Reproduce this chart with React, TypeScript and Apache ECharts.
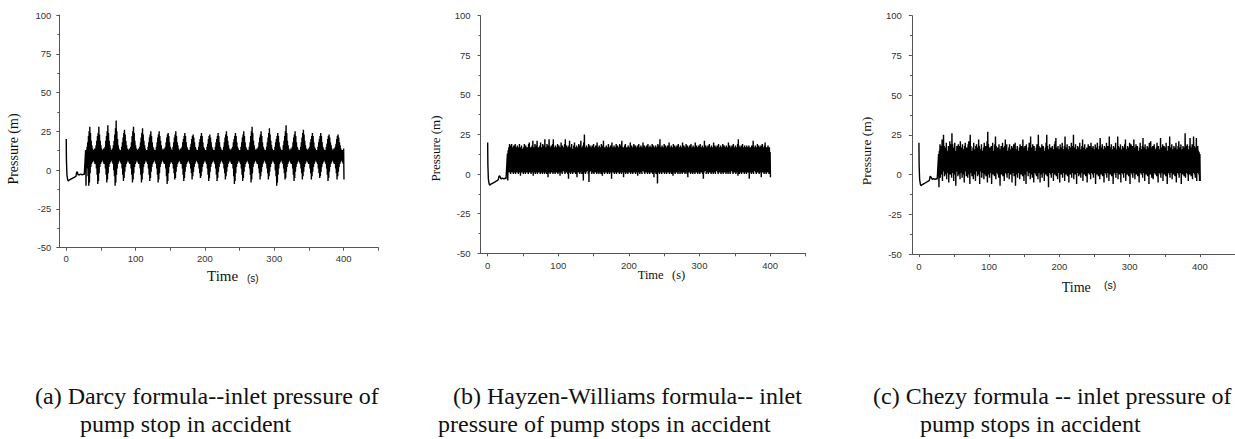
import React, { useEffect, useRef } from "react";
import * as echarts from "echarts";

const SERIF = "Liberation Serif";
const SANS = "Liberation Sans";

// x-axis ticks / labels (s), y-axis range (m)
const xTickValues = [0, 50, 100, 150, 200, 250, 300, 350, 400, 450];
const xLabelValues = [0, 100, 200, 300, 400];
const xRange = [-10, 450];
const yRange = [-50, 100];
const yStep = 25;

// initial transient after pump stop (same time base for all three panels)
const startTimes = [0, 0.3, 1, 2, 3, 4, 6, 8, 10, 12, 14, 15, 16, 17, 19, 21, 23, 25, 26, 27];
const startA = [20, 6, -3, -6, -7, -6.5, -6, -5.5, -5, -4.5, -4, -1.5, -1, -3, -3, -2.5, -3, -2.5, -3, -3];
const startB = [20, 6, -3, -6, -7, -6.5, -6, -5.5, -5, -4.5, -4, -3.5, -1.5, -1, -3, -2.5, -3, -2.5, -3, -3];
const startC = [20, 6, -3, -6, -7, -6.5, -6, -5.5, -5, -4.5, -4, -3.5, -1, -1.5, -3, -2.5, -3, -2.5, -3, -3];

// oscillating part: upper / lower envelope, one value per second from t = 28 s to 400 s
const bandStart = 28;

const upperA = [
  13,
  13, 15, 18, 22, 25, 28, 24, 19, 16, 14, 13, 13, 14,
  13, 16, 19, 22, 24, 28, 23, 19, 16, 14, 12, 13, 14,
  13, 15, 19, 22, 25, 29, 24, 19, 16, 14, 13, 13,
  14, 16, 19, 23, 27, 32, 25, 20, 16, 14, 13, 13,
  13, 15, 18, 21, 24, 26, 23, 19, 16, 14, 13, 12, 14,
  13, 15, 18, 22, 25, 28, 24, 19, 16, 14, 13, 13, 14,
  13, 15, 18, 21, 24, 27, 23, 19, 16, 14, 13, 13,
  13, 15, 18, 21, 23, 25, 22, 18, 15, 14, 13, 13,
  13, 15, 18, 21, 23, 25, 22, 19, 16, 14, 13, 12, 14,
  13, 15, 18, 21, 23, 24, 22, 18, 15, 14, 13,
  13, 15, 18, 21, 23, 25, 22, 18, 16, 14, 13, 12, 14,
  13, 15, 18, 20, 22, 24, 22, 18, 15, 14, 13, 13,
  13, 15, 17, 20, 22, 23, 21, 18, 15, 14, 13, 13,
  13, 15, 18, 20, 22, 24, 22, 18, 15, 14, 13, 13,
  13, 15, 17, 20, 22, 23, 21, 18, 15, 14, 13, 13,
  13, 15, 18, 20, 22, 24, 22, 18, 15, 14, 13, 13,
  13, 15, 18, 21, 23, 25, 22, 19, 16, 14, 13, 12, 14,
  13, 15, 18, 20, 22, 24, 22, 18, 15, 14, 13, 13,
  13, 15, 18, 21, 23, 25, 22, 18, 15, 14, 13, 13,
  13, 15, 18, 22, 25, 28, 24, 19, 16, 14, 13, 12, 14,
  13, 15, 18, 21, 23, 25, 22, 18, 15, 14, 13, 13,
  13, 15, 18, 21, 24, 27, 23, 19, 16, 14, 13, 13,
  13, 15, 18, 20, 22, 24, 22, 18, 15, 14, 13, 13,
  13, 16, 19, 22, 25, 29, 24, 19, 16, 14, 13, 12, 14,
  13, 15, 18, 21, 23, 25, 22, 18, 15, 14, 13, 13,
  13, 15, 18, 21, 24, 26, 23, 19, 16, 14, 13, 12, 14,
  13, 15, 18, 20, 22, 24, 22, 18, 15, 14, 13, 13,
  13, 15, 18, 20, 22, 24, 22, 18, 15, 14, 13, 13,
  13, 15, 17, 20, 22, 23, 21, 18, 16, 14, 13, 12, 14,
  13, 15, 17, 20, 22, 23, 21, 18, 16, 14, 13, 12, 13, 14,
];
const lowerA = [
  -10,
  4, 1, -4, -10, -8, -2, 2, 4, 5, 6, 6, 5, 4,
  4, 1, -3, -9, -7, -2, 2, 4, 5, 6, 6, 5, 4,
  4, 1, -3, -8, -6, -2, 2, 4, 5, 6, 6, 5,
  4, 0, -4, -10, -8, -3, 1, 4, 5, 6, 6, 5,
  4, 1, -3, -7, -5, -1, 2, 4, 5, 6, 6, 5, 4,
  4, 1, -3, -8, -6, -2, 2, 4, 5, 6, 6, 5, 4,
  4, 1, -3, -8, -6, -2, 2, 4, 5, 6, 6, 5,
  4, 1, -3, -7, -5, -1, 2, 4, 5, 6, 6, 5,
  4, 1, -3, -8, -6, -2, 2, 4, 5, 6, 6, 5, 4,
  4, 1, -4, -9, -7, -2, 2, 4, 5, 6, 5,
  4, 1, -2, -6, -5, -1, 2, 4, 5, 6, 6, 5, 4,
  4, 1, -3, -7, -5, -1, 2, 4, 5, 6, 6, 5,
  4, 1, -2, -6, -4, -1, 2, 4, 5, 6, 6, 5,
  4, 1, -2, -5, -4, -1, 2, 4, 5, 6, 6, 5,
  4, 1, -3, -7, -5, -1, 2, 4, 5, 6, 6, 5,
  4, 1, -3, -7, -5, -1, 2, 4, 5, 6, 6, 5,
  4, 1, -2, -6, -4, -1, 2, 4, 5, 6, 6, 5, 4,
  4, 1, -4, -9, -7, -2, 2, 4, 5, 6, 6, 5,
  4, 1, -3, -7, -5, -1, 2, 4, 5, 6, 6, 5,
  4, 1, -3, -8, -6, -2, 2, 4, 5, 6, 6, 5, 4,
  4, 1, -2, -6, -4, -1, 2, 4, 5, 6, 6, 5,
  4, 1, -2, -6, -4, -1, 2, 4, 5, 6, 6, 5,
  4, 0, -4, -10, -8, -3, 1, 4, 5, 6, 6, 5,
  4, 1, -2, -6, -5, -1, 2, 4, 5, 6, 6, 5, 4,
  4, 1, -3, -7, -5, -1, 2, 4, 5, 6, 6, 5,
  4, 1, -2, -6, -4, -1, 2, 4, 5, 6, 6, 5, 4,
  4, 1, -2, -6, -4, -1, 2, 4, 5, 6, 6, 5,
  4, 1, -2, -5, -4, -1, 2, 4, 5, 6, 6, 5,
  4, 1, -3, -7, -5, -1, 2, 4, 5, 6, 6, 5, 4,
  4, 1, -2, -6, -4, -1, 2, 4, 5, 6, 6, 5, 4, -6,
];

const upperB = [
  13, 15, 17, 19, 16, 18, 19, 17, 15, 18,
  16, 19, 17, 15, 18, 16, 17, 19, 15, 17,
  18, 16, 15, 17, 19, 16, 18, 15, 17, 16,
  19, 20, 16, 17, 15, 18, 21, 16, 17, 19,
  15, 18, 21, 16, 17, 15, 18, 20, 16, 17,
  19, 16, 18, 22, 15, 17, 19, 16, 18, 22,
  17, 15, 18, 16, 19, 22, 16, 17, 18, 15,
  17, 19, 16, 18, 15, 17, 20, 16, 18, 17,
  15, 19, 22, 16, 18, 17, 15, 18, 21, 16,
  17, 19, 16, 15, 18, 20, 17, 16, 18, 15,
  17, 19, 16, 18, 21, 17, 15, 18, 20, 25,
  17, 16, 18, 15, 17, 19, 16, 18, 17, 15,
  18, 16, 19, 17, 15, 18, 16, 20, 17, 15,
  18, 16, 17, 19, 15, 18, 21, 16, 17, 15,
  18, 17, 16, 19, 15, 17, 18, 16, 20, 17,
  15, 18, 16, 17, 19, 16, 18, 15, 17, 19,
  16, 18, 21, 15, 17, 16, 18, 19, 16, 17,
  15, 18, 16, 17, 20, 16, 18, 15, 17, 19,
  16, 18, 17, 15, 18, 16, 19, 17, 16, 18,
  15, 17, 20, 16, 18, 17, 15, 18, 16, 19,
  17, 16, 18, 15, 17, 19, 16, 18, 17, 15,
  18, 16, 17, 19, 16, 18, 22, 17, 16, 18,
  15, 17, 19, 16, 18, 17, 15, 18, 16, 20,
  17, 15, 18, 16, 17, 19, 16, 18, 17, 15,
  18, 16, 19, 17, 15, 18, 16, 17, 20, 16,
  18, 15, 17, 19, 16, 18, 17, 15, 18, 16,
  19, 17, 16, 18, 15, 17, 20, 16, 18, 17,
  15, 18, 16, 19, 17, 16, 18, 15, 17, 21,
  16, 18, 17, 15, 18, 16, 19, 17, 16, 18,
  15, 17, 20, 16, 18, 17, 15, 18, 16, 19,
  17, 16, 18, 15, 17, 19, 16, 18, 17, 15,
  18, 16, 17, 20, 16, 18, 17, 15, 18, 16,
  19, 17, 16, 18, 15, 17, 19, 22, 18, 17,
  15, 18, 16, 19, 17, 16, 18, 17, 16, 18,
  17, 16, 18, 17, 16, 17, 18, 16, 21, 17,
  16, 18, 15, 17, 19, 16, 18, 17, 15, 18,
  16, 19, 17, 15, 18, 20, 16, 17, 15, 18,
  16, 17, 14,
];
const lowerB = [
  -4, 3, 1, 2, 0, 3, 1, 2, 0, 1,
  3, 0, 2, 1, 3, 0, 2, 1, -1, 2,
  1, 3, 0, 2, 1, 0, 3, 1, 2, 0,
  2, 1, 3, 0, 1, 2, -1, 1, 3, 0,
  2, 1, 0, 3, 1, 2, 0, 1, 3, 0,
  1, 2, 0, 3, 1, 0, 2, -2, 1, 3,
  0, 2, 1, 3, 0, 1, 2, 0, 3, 1,
  2, 0, 1, 3, -1, 2, 1, 0, 2, 3,
  1, 0, 2, 1, 3, 0, -3, 1, 2, 0,
  3, 1, 0, 2, 1, 3, 0, 1, -2, 2,
  1, 3, 0, 2, 1, 0, 3, -4, 1, 2,
  0, 1, 3, 2, 0, -5, 1, 2, 3, 0,
  2, 1, 0, 3, 1, 2, 0, 1, 3, 0,
  1, 2, 0, 3, -1, 1, 2, 0, 3, 1,
  2, 0, 1, 3, 0, 2, 1, -3, 2, 1,
  3, 0, 2, 1, 0, 3, 1, 2, 0, 1,
  3, 0, 2, 1, -2, 1, 3, 0, 2, 1,
  0, 3, 1, 2, 0, 1, 3, 0, 2, 1,
  3, 0, 1, 2, -1, 1, 3, 0, 2, 1,
  0, 2, 3, 1, 0, 2, 1, 3, 0, 1,
  2, 0, 3, 1, 2, 0, 1, -2, 3, 1,
  0, 2, -6, 1, 3, 0, 2, 1, 0, 3,
  1, 2, 0, 3, 1, 0, 2, 1, 3, 0,
  1, 2, 0, 3, -1, 1, 2, 0, 3, 1,
  2, 0, 1, 3, 0, 2, 1, 0, 3, 1,
  2, 0, 1, 3, 0, -2, 2, 1, 3, 0,
  1, 2, 0, 3, 1, 0, 2, 1, 3, 0,
  2, 1, 0, 3, 1, 2, 0, -3, 1, 2,
  3, 0, 1, 2, 0, 3, 1, 2, 0, 1,
  3, 0, 2, 1, 0, 2, 3, 1, 0, 2,
  1, 3, 0, 2, 1, 0, 3, 1, 2, 0,
  1, 3, 0, 2, 1, 0, 2, 3, 1, 0,
  2, 1, 3, 0, 2, 1, -1, 2, 0, 3,
  1, 0, 2, 1, 3, 0, 2, 1, 0, 3,
  1, 2, -3, 1, 3, 0, 2, 1, 0, 2,
  3, 1, 0, 2, 1, 3, 0, 2, 1, -2,
  2, 1, 3, 0, 2, 1, 0, 3, 1, 2,
  0, 2, -2,
];

const upperC = [
  13, 15, 19, 14, 18, 22, 16, 25, 18, 14,
  17, 20, 15, 13, 18, 16, 21, 17, 19, 26,
  19, 14, 17, 20, 15, 13, 18, 16, 19, 15,
  18, 21, 17, 14, 19, 16, 13, 18, 20, 15,
  17, 14, 19, 21, 17, 25, 18, 15, 13, 17,
  20, 16, 14, 18, 19, 15, 17, 22, 18, 14,
  16, 19, 15, 13, 17, 20, 16, 18, 14, 21,
  27, 19, 15, 17, 14, 18, 16, 20, 15, 13,
  19, 24, 18, 15, 17, 14, 19, 16, 13, 18,
  15, 20, 17, 14, 18, 22, 16, 19, 15, 13,
  17, 19, 16, 14, 18, 15, 17, 19, 16, 20,
  16, 14, 18, 15, 13, 17, 19, 16, 18, 15,
  22, 17, 14, 18, 16, 19, 15, 13, 17, 20,
  18, 24, 17, 14, 19, 16, 18, 15, 13, 17,
  19, 16, 25, 18, 15, 17, 14, 19, 16, 18,
  15, 13, 17, 20, 25, 18, 14, 16, 19, 15,
  17, 14, 18, 16, 13, 19, 21, 23, 17, 15,
  18, 16, 14, 19, 15, 17, 20, 16, 13, 18,
  24, 17, 15, 19, 16, 14, 18, 15, 17, 20,
  16, 18, 25, 17, 14, 19, 16, 13, 18, 15,
  17, 20, 16, 14, 18, 22, 17, 15, 19, 16,
  13, 17, 15, 19, 16, 18, 14, 20, 17, 15,
  18, 16, 13, 19, 15, 17, 20, 16, 14, 18,
  23, 17, 15, 19, 16, 14, 18, 15, 17, 20,
  16, 18, 15, 24, 17, 14, 19, 16, 13, 18,
  15, 17, 20, 16, 14, 24, 18, 15, 17, 19,
  16, 13, 18, 15, 17, 19, 22, 16, 14, 18,
  15, 17, 20, 16, 19, 14, 18, 15, 22, 17,
  14, 19, 16, 18, 15, 13, 17, 20, 16, 14,
  18, 23, 17, 15, 19, 16, 14, 18, 15, 17,
  20, 16, 21, 17, 14, 18, 15, 19, 16, 13,
  17, 20, 15, 18, 16, 14, 23, 17, 15, 19,
  16, 18, 14, 17, 20, 15, 13, 18, 16, 24,
  17, 15, 19, 16, 14, 18, 15, 17, 20, 16,
  14, 18, 21, 17, 15, 19, 16, 13, 18, 15,
  17, 26, 18, 15, 19, 16, 14, 18, 23, 17,
  15, 19, 16, 24, 18, 14, 17, 23, 16, 18,
  15, 14, 13,
];
const lowerC = [
  -8, 3, -2, 4, 0, -4, 2, 5, -1, 3,
  0, -3, 4, 1, -5, 2, 0, 5, -2, 3,
  1, -4, 3, 0, -7, 2, 5, -1, 3, 0,
  -3, 4, 1, -2, 3, 0, -5, 2, 4, -1,
  3, -2, 0, 4, -6, 1, 3, -1, 2, -3,
  4, 0, -4, 2, 5, -1, 3, 0, -6, 2,
  4, -2, 1, 3, -3, 0, 4, -1, 2, -5,
  3, 0, -2, 4, 1, -6, 2, 0, 3, -1,
  4, -3, 1, 3, 0, -2, 4, -7, 2, 0,
  3, -1, 4, -4, 1, 3, 0, -2, 4, 1,
  -3, 2, 0, 4, -5, 1, 3, -1, 2, -7,
  3, 0, -2, 4, 1, -3, 2, 0, 4, -1,
  2, -4, 3, 0, -6, 2, 4, -1, 1, 3,
  -3, 0, 4, -2, 2, -5, 1, 3, 0, -1,
  4, -3, 1, 2, -5, 3, 0, -2, 4, 1,
  -4, 2, 0, 3, -1, 4, -8, 1, 3, 0,
  -2, 4, 1, -4, 2, 0, 3, -1, 4, -3,
  1, 3, -5, 2, 0, 4, -2, 1, 3, -4,
  2, 0, 4, -1, 3, -5, 1, 0, 4, -2,
  3, 1, -3, 2, 0, 4, -6, 1, 3, -1,
  4, 0, -2, 3, 1, -4, 2, 0, 4, -1,
  3, -5, 1, 2, 0, 4, -3, 1, 3, 0,
  -2, 4, 1, -6, 2, 0, 3, -1, 4, -3,
  2, 0, 3, -1, 4, -5, 1, 3, 0, -2,
  4, 1, -4, 2, 0, 3, -1, 4, -6, 1,
  3, 0, -2, 4, 1, -3, 2, 0, 4, -5,
  1, 3, 0, -2, 4, 1, -4, 2, 0, 3,
  -1, 4, -6, 1, 3, 0, -2, 4, 1, -3,
  2, 0, 4, -1, 3, -5, 1, 2, 0, 4,
  -2, 1, 3, -4, 2, 0, 4, -1, 3, -6,
  1, 0, 4, -2, 2, -3, 1, 3, 0, 4,
  -1, 2, -5, 1, 3, 0, -2, 4, 1, -4,
  2, 0, 3, -1, 4, -6, 1, 3, 0, -2,
  4, 1, -3, 2, 0, 3, -1, 4, -5, 1,
  3, 0, -2, 4, 1, -6, 2, 0, 3, -1,
  4, -2, 1, 3, 0, -4, 2, 0, 4, -1,
  3, -3, 1, 4, 0, -2, 2, -4, 1, 3,
  0, -4, -4,
];

const captions = [
  ["(a) Darcy formula--inlet pressure of", "pump stop in accident"],
  ["(b) Hayzen-Williams formula-- inlet", "pressure of pump stops in accident"],
  ["(c) Chezy formula -- inlet pressure of", "pump stops in accident"],
];

function buildLine(startP: number[], upper: number[], lower: number[]) {
  const pts: number[][] = startTimes.map((t, i) => [t, startP[i]]);
  const n = Math.min(upper.length, lower.length);
  for (let i = 0; i < n; i++) {
    const t = bandStart + i;
    pts.push([t, upper[i]]);
    pts.push([t + 0.5, lower[i]]);
  }
  return pts;
}

// layout of each panel (pixel geometry)
const panels = [
  { left: 59.3, top: 15, width: 319, height: 232.7, yLabelMargin: 8, xLabelMargin: 6 },
  { left: 480.6, top: 15.7, width: 324.8, height: 237.6, yLabelMargin: 10, xLabelMargin: 7 },
  { left: 911.9, top: 15.7, width: 327, height: 238.3, yLabelMargin: 10, xLabelMargin: 7.5 },
];

function txt(x: number, y: number, text: string, size: number, family: string, extra: any = {}) {
  return {
    type: "text",
    x,
    y,
    ...extra,
    style: {
      text,
      fontSize: size,
      fontFamily: family,
      fontWeight: "normal",
      fill: "#111",
      textAlign: extra.align || "left",
      textVerticalAlign: "middle",
    },
  };
}

export default function App() {
  const ref = useRef<HTMLDivElement>(null);
  useEffect(() => {
    document.body.style.margin = "0";
    if (!ref.current) return;
    const chart = echarts.init(ref.current, null, { renderer: "svg" });
    const axisColor = "#555";
    const lines = [
      buildLine(startA, upperA, lowerA),
      buildLine(startB, upperB, lowerB),
      buildLine(startC, upperC, lowerC),
    ];
    const grid = panels.map((p) => ({ left: p.left, top: p.top, width: p.width, height: p.height, containLabel: false }));
    const xAxis = panels.map((p, i) => ({
      type: "value",
      gridIndex: i,
      min: xRange[0],
      max: xRange[1],
      splitLine: { show: false },
      axisLine: { show: true, onZero: false, lineStyle: { color: axisColor, width: 1 } },
      axisTick: { show: true, length: 3, customValues: xTickValues, lineStyle: { color: axisColor } },
      axisLabel: {
        customValues: xLabelValues,
        fontSize: 9.5,
        fontFamily: SANS,
        color: "#333",
        margin: p.xLabelMargin,
      },
    }));
    const yAxis = panels.map((p, i) => ({
      type: "value",
      gridIndex: i,
      min: yRange[0],
      max: yRange[1],
      interval: yStep,
      splitLine: { show: false },
      axisLine: { show: true, onZero: false, lineStyle: { color: axisColor, width: 1 } },
      axisTick: { show: true, length: 3, lineStyle: { color: axisColor } },
      minorTick: { show: true, splitNumber: 2, length: 2, lineStyle: { color: axisColor } },
      axisLabel: { fontSize: 9.5, fontFamily: SANS, color: "#333", margin: p.yLabelMargin },
    }));
    const series = lines.map((data, i) => ({
      type: "line",
      xAxisIndex: i,
      yAxisIndex: i,
      data,
      symbol: "none",
      showSymbol: false,
      lineStyle: { color: "#000", width: 1.4 },
      clip: true,
    }));

    const yNames = [
      { x: 13.5, y: 149, size: 14 },
      { x: 435, y: 148.5, size: 13 },
      { x: 866, y: 151, size: 13.5 },
    ];
    const timeLabels = [
      { x: 207, y: 276, size: 15, sx: 247, sy: 278, ssize: 10, sfont: SANS },
      { x: 637.7, y: 275, size: 12.5, sx: 672, sy: 275, ssize: 12.5, sfont: SERIF },
      { x: 1061.7, y: 287, size: 14, sx: 1104, sy: 285, ssize: 10.5, sfont: SANS },
    ];
    const capPos = [
      [35, 80],
      [453, 438],
      [873, 920],
    ];
    const capFont = 24;
    const graphic: any[] = [];
    yNames.forEach((n) => {
      graphic.push(txt(n.x, n.y, "Pressure (m)", n.size, SERIF, { rotation: Math.PI / 2, align: "center" }));
    });
    timeLabels.forEach((t) => {
      graphic.push(txt(t.x, t.y, "Time", t.size, SERIF));
      graphic.push(txt(t.sx, t.sy, "(s)", t.ssize, t.sfont));
    });
    captions.forEach((c, i) => {
      graphic.push(txt(capPos[i][0], 396, c[0], capFont, SERIF));
      graphic.push(txt(capPos[i][1], 424, c[1], capFont, SERIF));
    });

    chart.setOption({
      animation: false,
      backgroundColor: "#fff",
      grid,
      xAxis,
      yAxis,
      series,
      graphic,
    } as any);
    return () => chart.dispose();
  }, []);
  return <div ref={ref} style={{ width: 1235, height: 439 }} />;
}
